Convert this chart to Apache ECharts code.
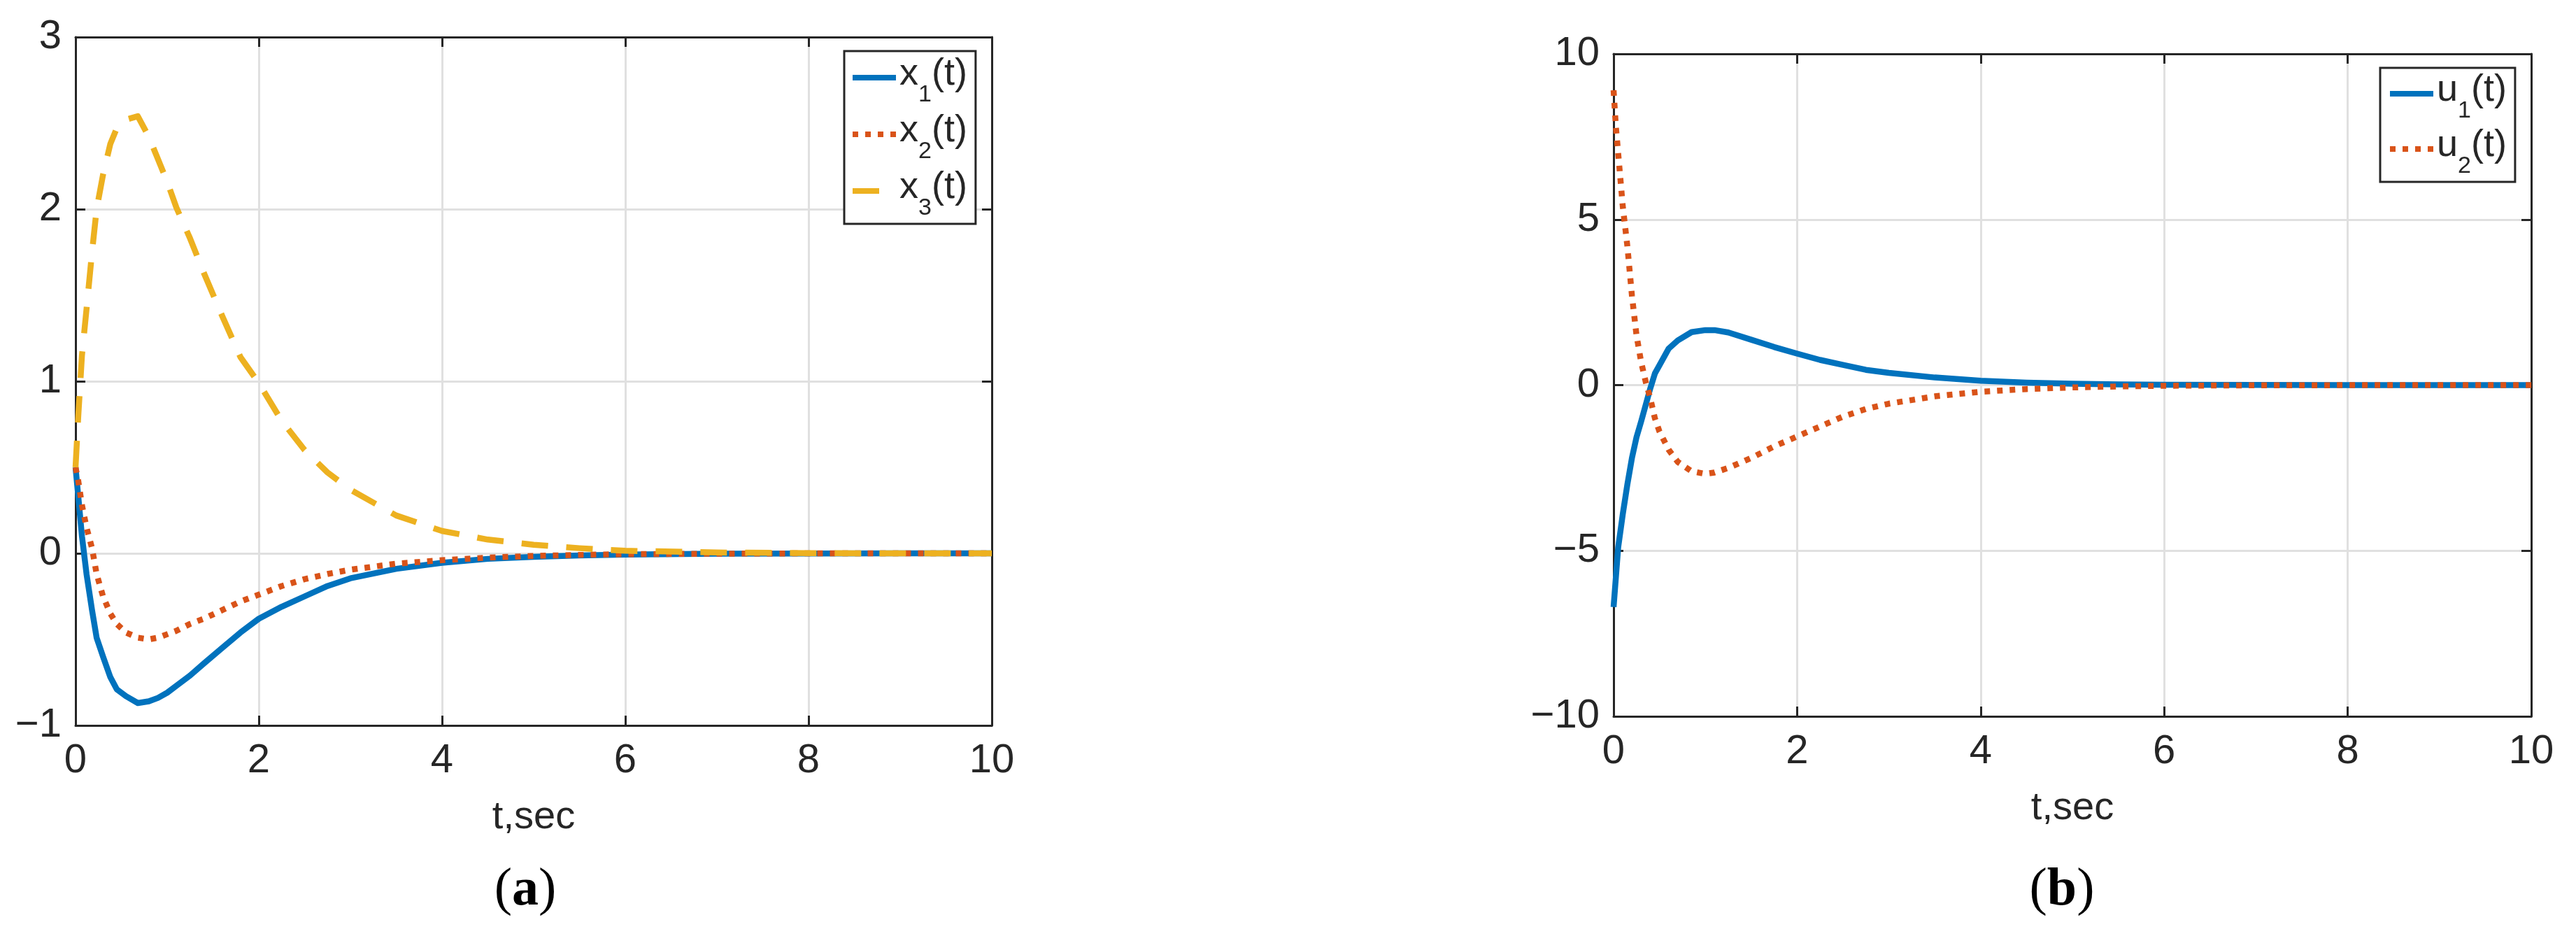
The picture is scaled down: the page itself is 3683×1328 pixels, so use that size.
<!DOCTYPE html>
<html>
<head>
<meta charset="utf-8">
<script src="https://cdn.jsdelivr.net/npm/echarts@6/dist/echarts.min.js"></script>
<style>
  html, body { margin: 0; padding: 0; background: #fff; }
  #chart { width: 3683px; height: 1328px; }
</style>
</head>
<body>
<div id="chart"></div>
<script>
// (a) state trajectories
const tA = [0, 0.03, 0.07, 0.12, 0.18, 0.23, 0.3, 0.38, 0.45, 0.55, 0.68, 0.8, 0.9, 1.0, 1.1, 1.25, 1.4, 1.6, 1.8, 2.0, 2.25, 2.5, 2.75, 3.0, 3.5, 4.0, 4.5, 5.0, 5.5, 6.0, 7.0, 8.0, 9.0, 10.0];
const x1 = [0.5, 0.33, 0.1, -0.12, -0.33, -0.49, -0.6, -0.72, -0.79, -0.83, -0.87, -0.86, -0.84, -0.81, -0.77, -0.71, -0.64, -0.55, -0.46, -0.38, -0.31, -0.25, -0.19, -0.145, -0.09, -0.055, -0.032, -0.02, -0.012, -0.007, -0.002, -0.001, 0, 0];
const x2 = [0.5, 0.42, 0.28, 0.15, 0.03, -0.12, -0.25, -0.35, -0.41, -0.46, -0.49, -0.5, -0.49, -0.47, -0.45, -0.41, -0.38, -0.33, -0.28, -0.24, -0.19, -0.15, -0.12, -0.095, -0.06, -0.04, -0.025, -0.015, -0.009, -0.005, -0.002, 0, 0, 0];
const x3 = [0.5, 0.8, 1.15, 1.42, 1.75, 2.0, 2.2, 2.38, 2.47, 2.52, 2.54, 2.42, 2.29, 2.16, 2.01, 1.83, 1.63, 1.38, 1.14, 0.99, 0.77, 0.6, 0.47, 0.37, 0.22, 0.13, 0.08, 0.05, 0.03, 0.015, 0.005, 0.001, 0, 0];

// (b) control inputs
const tB = [0, 0.025, 0.05, 0.075, 0.1, 0.15, 0.2, 0.25, 0.3, 0.35, 0.4, 0.45, 0.5, 0.6, 0.7, 0.85, 1.0, 1.1, 1.25, 1.5, 1.75, 2.0, 2.25, 2.5, 2.75, 3.0, 3.5, 4.0, 4.5, 5.0, 5.5, 6.0, 7.0, 8.0, 9.0, 10.0];
const u1 = [-6.7, -5.8, -4.9, -4.4, -3.9, -3.0, -2.2, -1.57, -1.1, -0.6, -0.1, 0.35, 0.6, 1.1, 1.35, 1.6, 1.66, 1.66, 1.59, 1.37, 1.15, 0.95, 0.76, 0.61, 0.46, 0.37, 0.23, 0.13, 0.075, 0.04, 0.02, 0.01, 0.003, 0.001, 0, 0];
const u2 = [8.9, 7.8, 7.0, 6.2, 5.4, 4.2, 2.7, 1.5, 0.7, 0.1, -0.4, -1.0, -1.4, -1.95, -2.32, -2.6, -2.68, -2.64, -2.5, -2.2, -1.85, -1.55, -1.25, -0.95, -0.72, -0.56, -0.34, -0.2, -0.12, -0.07, -0.04, -0.02, -0.006, -0.002, 0, 0];

// axis ranges
const xRange = [0, 10, 2];
const yRangeA = [-1, 3, 1];
const yRangeB = [-10, 10, 5];

const FONT = 'Liberation Sans';
const INK = '#262626';
const BLUE = '#0072BD', ORANGE = '#D95319', YELLOW = '#EDB120';
const LW = 8.5;

const pairs = (t, v) => t.map((ti, i) => [ti, v[i]]);
const fmt = v => (v < 0 ? '\u2212' + (-v) : String(v));

function boxAxes(grid, yr) {
  const tick = { show: true, inside: true, length: 14, lineStyle: { color: INK, width: 3 } };
  const line = { show: true, onZero: false, lineStyle: { color: INK, width: 3 } };
  const xs = [
    {
      type: 'value', gridIndex: grid, position: 'bottom', min: xRange[0], max: xRange[1], interval: xRange[2],
      axisLine: line, axisTick: tick,
      axisLabel: { margin: 22, fontSize: 58, fontFamily: FONT, color: INK },
      splitLine: { show: true, lineStyle: { color: '#e0e0e0', width: 3 } },
      name: 't,sec', nameLocation: 'middle', nameGap: 104,
      nameTextStyle: { fontSize: 56, fontFamily: FONT, color: INK }
    },
    {
      type: 'value', gridIndex: grid, position: 'top', min: xRange[0], max: xRange[1], interval: xRange[2],
      axisLine: line, axisTick: tick, axisLabel: { show: false }, splitLine: { show: false }
    }
  ];
  const ys = [
    {
      type: 'value', gridIndex: grid, position: 'left', min: yr[0], max: yr[1], interval: yr[2],
      axisLine: line, axisTick: tick,
      axisLabel: { margin: 20, fontSize: 58, fontFamily: FONT, color: INK, formatter: fmt },
      splitLine: { show: true, lineStyle: { color: '#e0e0e0', width: 3 } }
    },
    {
      type: 'value', gridIndex: grid, position: 'right', min: yr[0], max: yr[1], interval: yr[2],
      axisLine: line, axisTick: tick, axisLabel: { show: false }, splitLine: { show: false }
    }
  ];
  return { xs, ys };
}

const a = boxAxes(0, yRangeA);
const b = boxAxes(1, yRangeB);

function line(name, data, xi, yi, color, type) {
  return {
    name, type: 'line', data, xAxisIndex: xi, yAxisIndex: yi,
    showSymbol: false, symbol: 'none', symbolSize: 0, animation: false,
    lineStyle: { color, width: LW, type, cap: 'butt', join: 'round' },
    itemStyle: { color }
  };
}

const rich = {
  n: { fontSize: 54, lineHeight: 64, verticalAlign: 'top', fontFamily: FONT, color: INK },
  s: { fontSize: 34, lineHeight: 40, padding: [40, 0, 0, 0], verticalAlign: 'top', fontFamily: FONT, color: INK }
};

function legend(names, left, top, gap, pad) {
  return {
    orient: 'vertical', left, top, itemGap: gap, itemWidth: 62, itemHeight: 14,
    padding: pad, backgroundColor: '#fff', borderColor: INK, borderWidth: 3, borderRadius: 0,
    selectedMode: false, data: names,
    lineStyle: { width: 8 },
    itemStyle: { opacity: 0 },
    formatter: name => `{n|${name[0]}}{s|${name.slice(1)}}{n|(t)}`,
    textStyle: { rich }
  };
}

const chart = echarts.init(document.getElementById('chart'), null, { renderer: 'canvas' });
chart.setOption({
  backgroundColor: '#fff',
  animation: false,
  grid: [
    { left: 108, top: 53, width: 1310, height: 984 },
    { left: 2307, top: 77, width: 1312, height: 947 }
  ],
  xAxis: [...a.xs, ...b.xs],
  yAxis: [...a.ys, ...b.ys],
  legend: [
    legend(['x1', 'x2', 'x3'], 1207, 73, 7, [6, 12, 5, 8]),
    legend(['u1', 'u2'], 3403, 97, 5, [5, 12, 5, 10])
  ],
  series: [
    line('x1', pairs(tA, x1), 0, 0, BLUE, 'solid'),
    line('x2', pairs(tA, x2), 0, 0, ORANGE, [8, 10]),
    line('x3', pairs(tA, x3), 0, 0, YELLOW, [38, 26]),
    line('u1', pairs(tB, u1), 2, 2, BLUE, 'solid'),
    line('u2', pairs(tB, u2), 2, 2, ORANGE, [8, 10])
  ],
  graphic: [
    {
      type: 'text', x: 751, y: 1273,
      style: {
        text: '{p|(}{b|a}{p|)}', align: 'center', verticalAlign: 'middle',
        rich: {
          p: { fontSize: 76, fontFamily: 'Liberation Serif', fill: '#000' },
          b: { fontSize: 76, fontFamily: 'Liberation Serif', fontWeight: 'bold', fill: '#000' }
        }
      }
    },
    {
      type: 'text', x: 2948, y: 1273,
      style: {
        text: '{p|(}{b|b}{p|)}', align: 'center', verticalAlign: 'middle',
        rich: {
          p: { fontSize: 76, fontFamily: 'Liberation Serif', fill: '#000' },
          b: { fontSize: 76, fontFamily: 'Liberation Serif', fontWeight: 'bold', fill: '#000' }
        }
      }
    }
  ]
});
</script>
</body>
</html>
